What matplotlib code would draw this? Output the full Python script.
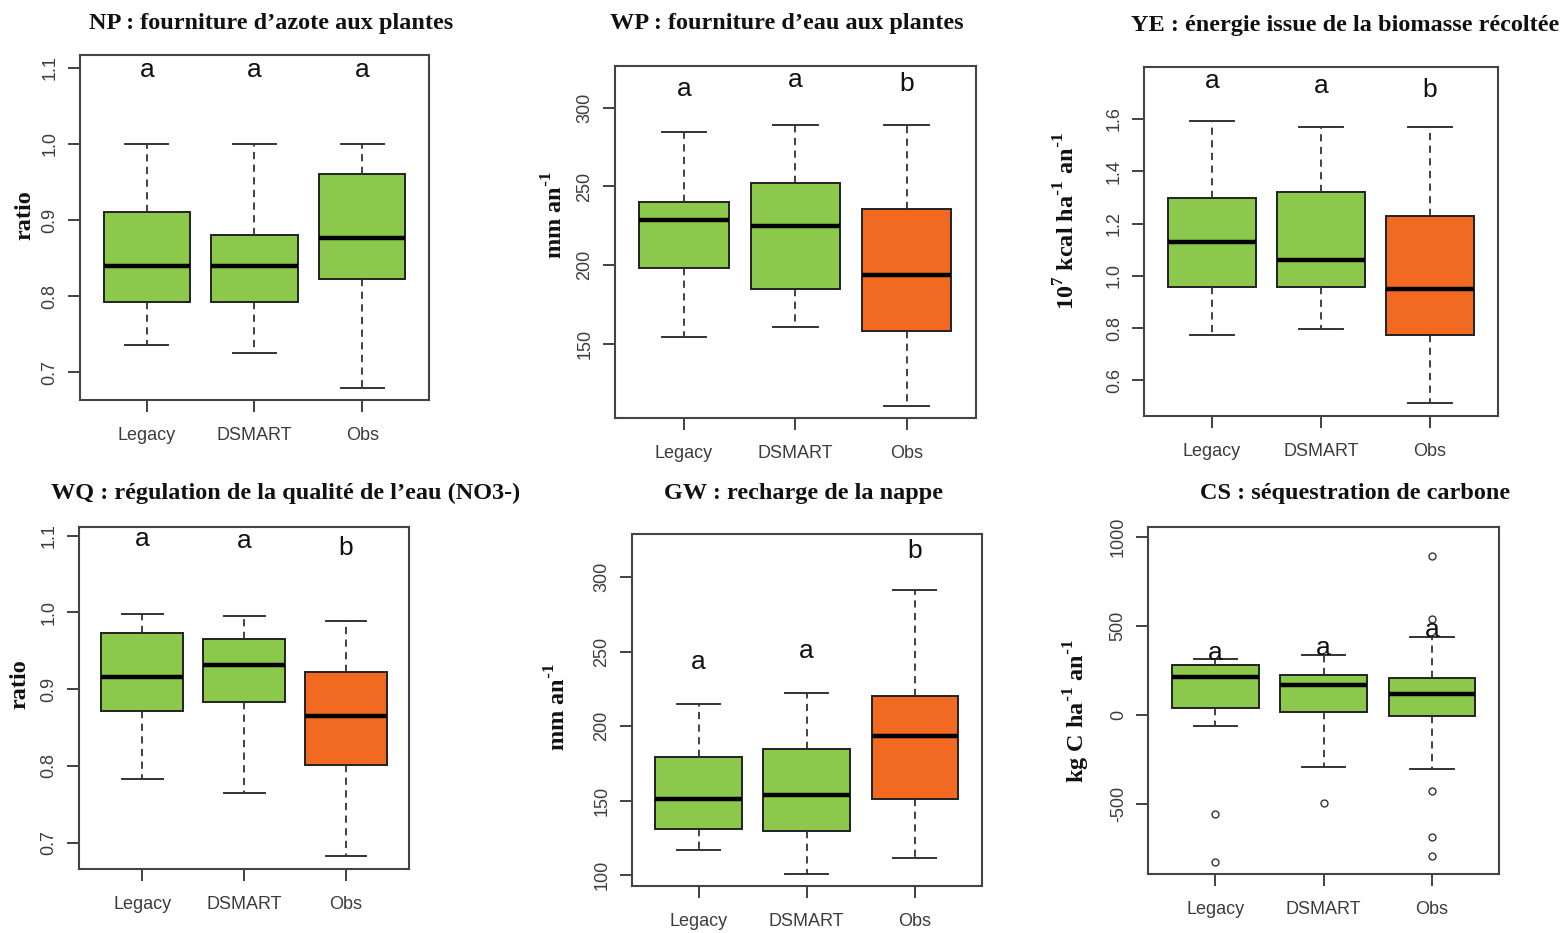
import matplotlib
matplotlib.use("Agg")
from matplotlib import pyplot as plt

W, H = 1565, 933

groups = ["Legacy", "DSMART", "Obs"]

# five-number summaries per group: whislo, q1, med, q3, whishi
np_stats = [[0.736, 0.792, 0.839, 0.911, 1.0],
            [0.725, 0.792, 0.840, 0.880, 1.0],
            [0.680, 0.823, 0.877, 0.960, 1.0]]
wp_stats = [[154.7, 198.5, 228.7, 240.2, 284.8],
            [160.9, 185.2, 225.1, 252.4, 289.0],
            [110.7, 158.3, 193.8, 235.5, 289.0]]
ye_stats = [[0.774, 0.956, 1.131, 1.298, 1.592],
            [0.796, 0.956, 1.061, 1.320, 1.569],
            [0.513, 0.775, 0.950, 1.228, 1.569]]
wq_stats = [[0.783, 0.872, 0.916, 0.973, 0.998],
            [0.765, 0.883, 0.931, 0.966, 0.995],
            [0.682, 0.801, 0.865, 0.923, 0.989]]
gw_stats = [[117.0, 131.1, 150.8, 179.4, 214.9],
            [100.8, 129.3, 153.7, 184.8, 222.5],
            [111.2, 150.8, 193.4, 220.2, 291.3]]
cs_stats = [[-60, 41, 217, 283, 315],
            [-292, 19, 169, 228, 339],
            [-300, -5, 121, 211, 440]]
cs_fliers = [[-556, -822], [-494], [897, 541, -425, -682, -790]]

np_letters = ["a", "a", "a"]
wp_letters = ["a", "a", "b"]
ye_letters = ["a", "a", "b"]
wq_letters = ["a", "a", "b"]
gw_letters = ["a", "a", "b"]
cs_letters = ["a", "a", "a"]

np_letter_y = [1.088, 1.088, 1.088]
wp_letter_y = [307.4, 312.9, 310.8]
ye_letter_y = [1.717, 1.698, 1.685]
wq_letter_y = [1.086, 1.084, 1.075]
gw_letter_y = [238.4, 246.0, 312.8]
cs_letter_y = [311, 339, 442]

np_ticks = [0.7, 0.8, 0.9, 1.0, 1.1]
wp_ticks = [150, 200, 250, 300]
ye_ticks = [0.6, 0.8, 1.0, 1.2, 1.4, 1.6]
wq_ticks = [0.7, 0.8, 0.9, 1.0, 1.1]
gw_ticks = [100, 150, 200, 250, 300]
cs_ticks = [-500, 0, 500, 1000]

GREEN = "#8cc84b"
ORANGE = "#f26a22"
TXT = "#3c3c3c"

fig = plt.figure(figsize=(W / 100, H / 100), dpi=100)
fig.patch.set_facecolor("white")


def fx(x):
    return x / W


def fy(y):
    return 1 - y / H


def panel(box, stats, colors, ylim, ticks, fmt, letters, letter_y, fliers=None):
    l, r, t, b = box
    ax = fig.add_axes([fx(l), fy(b), (r - l) / W, (b - t) / H])
    bx = []
    for i, s in enumerate(stats):
        d = dict(whislo=s[0], q1=s[1], med=s[2], q3=s[3], whishi=s[4], label=groups[i])
        d["fliers"] = fliers[i] if fliers else []
        bx.append(d)
    res = ax.bxp(bx, positions=[1, 2, 3], widths=0.8, capwidths=0.4, patch_artist=True,
                 boxprops=dict(edgecolor="#222222", linewidth=1.4),
                 medianprops=dict(color="black", linewidth=3.2, solid_capstyle="butt"),
                 whiskerprops=dict(color="#333333", linewidth=1.3, linestyle=(0, (4, 3))),
                 capprops=dict(color="#333333", linewidth=1.4),
                 flierprops=dict(marker="o", markersize=5, markerfacecolor="none",
                                 markeredgecolor="#333333", markeredgewidth=1.0))
    for p, c in zip(res["boxes"], colors):
        p.set_facecolor(c)
    ax.set_xlim(0.38, 3.62)
    ax.set_ylim(*ylim)
    ax.set_yticks(ticks)
    ax.set_yticklabels([fmt.format(v) for v in ticks], rotation=90, va="center")
    ax.set_xticks([1, 2, 3])
    ax.set_xticklabels(groups)
    ax.tick_params(axis="both", length=8.5, width=1.3, color="#333333", labelcolor=TXT,
                   labelsize=13, labelfontfamily="Liberation Sans")
    ax.tick_params(axis="x", pad=11)
    ax.tick_params(axis="y", pad=7)
    for sp in ax.spines.values():
        sp.set_color("#444444")
        sp.set_linewidth(1.5)
    for i, (t, yv) in enumerate(zip(letters, letter_y)):
        ax.text(i + 1, yv, t, ha="center", va="baseline", fontsize=19,
                family="Liberation Sans", color="#111111")
    return ax


g3 = [GREEN, GREEN, ORANGE]

panel((80, 429, 55, 400), np_stats, [GREEN] * 3, (0.6636, 1.1167), np_ticks, "{:.1f}",
      np_letters, np_letter_y)
panel((615, 975.7, 65.7, 418.3), wp_stats, g3, (102.9, 326.6), wp_ticks, "{:.0f}",
      wp_letters, wp_letter_y)
panel((1144.3, 1497.7, 66.7, 415.7), ye_stats, g3, (0.465, 1.8), ye_ticks, "{:.1f}",
      ye_letters, ye_letter_y)
panel((79, 409.3, 526.7, 869), wq_stats, g3, (0.6657, 1.1117), wq_ticks, "{:.1f}",
      wq_letters, wq_letter_y)
panel((631.7, 981.7, 534, 886), gw_stats, g3, (92.6, 329.1), gw_ticks, "{:.0f}",
      gw_letters, gw_letter_y)
panel((1148.3, 1499, 526.7, 874), cs_stats, [GREEN] * 3, (-891.6, 1059.6), cs_ticks, "{:.0f}",
      cs_letters, cs_letter_y, fliers=cs_fliers)

serif = dict(family="Liberation Serif", weight="bold", fontsize=17.5, color="#111111")

# titles
fig.text(fx(271.5), fy(23), "NP : fourniture d’azote aux plantes", ha="center", va="center", **serif)
fig.text(fx(786.5), fy(23), "WP : fourniture d’eau aux plantes", ha="center", va="center", **serif)
fig.text(fx(1345), fy(25), "YE : énergie issue de la biomasse récoltée", ha="center", va="center", **serif)
fig.text(fx(286), fy(493), "WQ : régulation de la qualité de l’eau (NO3-)", ha="center", va="center", **serif)
fig.text(fx(804), fy(493), "GW : recharge de la nappe", ha="center", va="center", **serif)
fig.text(fx(1355.5), fy(494), "CS : séquestration de carbone", ha="center", va="center", **serif)

# y labels (superscripts with a plain hyphen, like the original)
m1 = r"$^{\mathregular{\text{-}1}}$"
fig.text(fx(25), fy(215), "ratio", rotation=90, ha="center", va="center", **serif)
fig.text(fx(555), fy(215), "mm an" + m1, rotation=90, ha="center", va="center", **serif)
fig.text(fx(1067), fy(221), r"10$^{\mathregular{7}}$ kcal ha" + m1 + " an" + m1,
         rotation=90, ha="center", va="center", **serif)
fig.text(fx(20), fy(684), "ratio", rotation=90, ha="center", va="center", **serif)
fig.text(fx(558), fy(707), "mm an" + m1, rotation=90, ha="center", va="center", **serif)
fig.text(fx(1077), fy(711), "kg C ha" + m1 + " an" + m1,
         rotation=90, ha="center", va="center", **serif)

fig.savefig("out.png", dpi=100, facecolor="white")
